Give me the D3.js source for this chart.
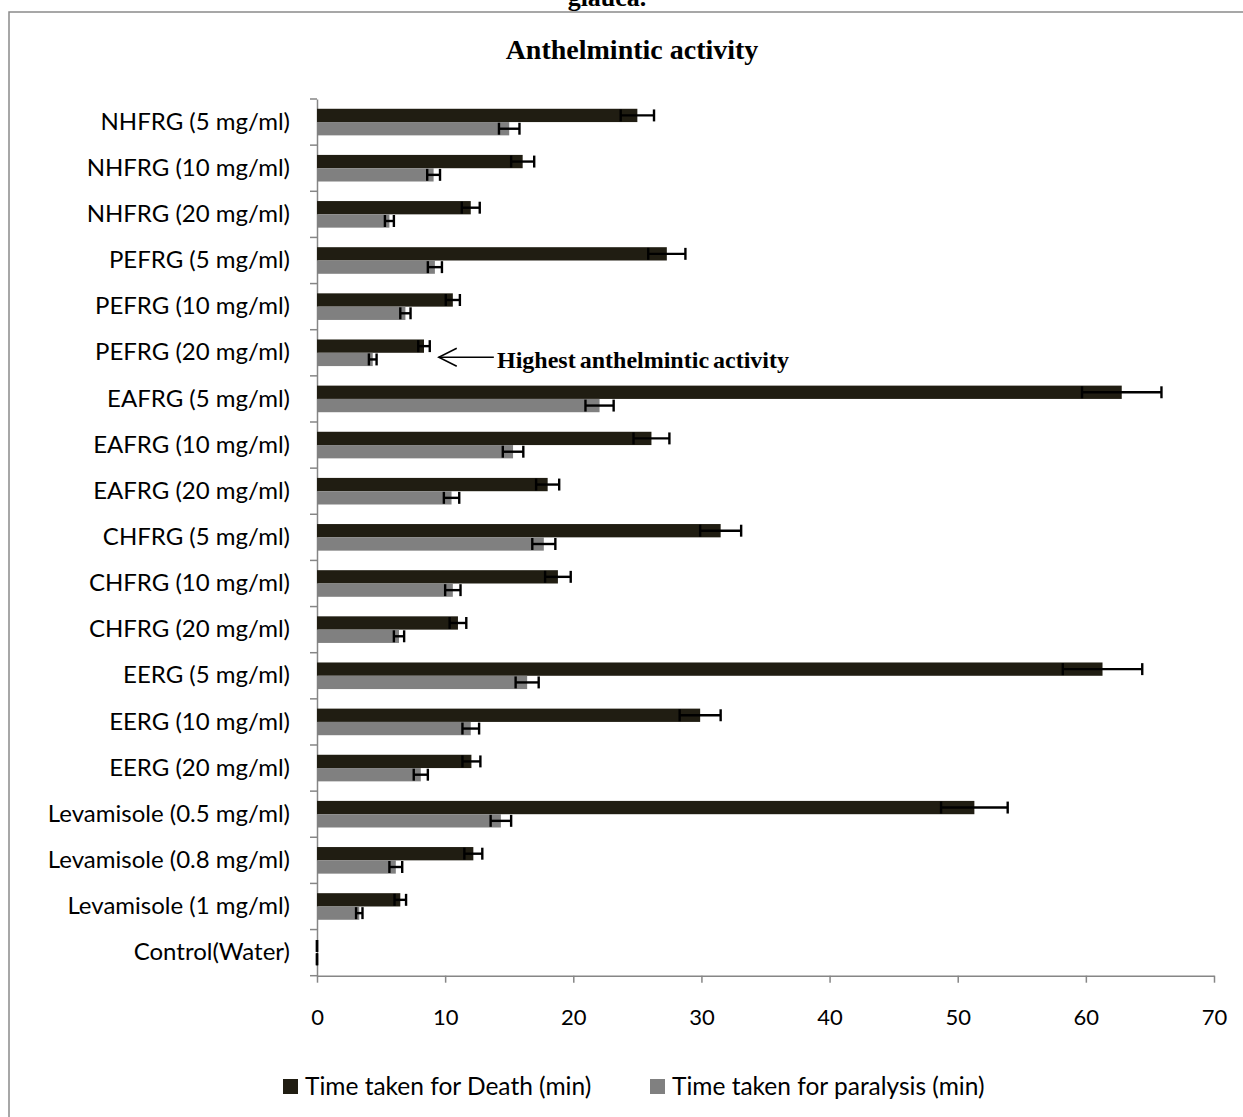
<!DOCTYPE html>
<html>
<head>
<meta charset="utf-8">
<script src="https://cdn.jsdelivr.net/npm/d3@7"></script>
<style>
  body { margin: 0; background: #fff; }
  svg { display: block; }
</style>
</head>
<body>
<div id="chart"></div>
<script>
// Categories top to bottom, as in the figure
const categories = [
    'NHFRG (5 mg/ml)', 'NHFRG (10 mg/ml)', 'NHFRG (20 mg/ml)',
    'PEFRG (5 mg/ml)', 'PEFRG (10 mg/ml)', 'PEFRG (20 mg/ml)',
    'EAFRG (5 mg/ml)', 'EAFRG (10 mg/ml)', 'EAFRG (20 mg/ml)',
    'CHFRG (5 mg/ml)', 'CHFRG (10 mg/ml)', 'CHFRG (20 mg/ml)',
    'EERG (5 mg/ml)', 'EERG (10 mg/ml)', 'EERG (20 mg/ml)',
    'Levamisole (0.5 mg/ml)', 'Levamisole (0.8 mg/ml)', 'Levamisole (1 mg/ml)',
    'Control(Water)'
];

const deathTime = [25.0, 16.05, 12.0, 27.3, 10.6, 8.35, 62.8, 26.1, 18.0, 31.5, 18.8, 11.0, 61.3, 29.9, 12.05, 51.3, 12.2, 6.5, 0];
const deathErr = [1.3, 0.9, 0.7, 1.45, 0.55, 0.45, 3.1, 1.4, 0.9, 1.6, 1.0, 0.65, 3.1, 1.6, 0.7, 2.6, 0.7, 0.45, 0];
const paralysisTime = [15.0, 9.1, 5.65, 9.2, 6.9, 4.35, 22.05, 15.3, 10.5, 17.7, 10.6, 6.4, 16.4, 12.0, 8.1, 14.35, 6.15, 3.3, 0];
const paralysisErr = [0.8, 0.5, 0.35, 0.55, 0.4, 0.3, 1.1, 0.8, 0.6, 0.9, 0.6, 0.4, 0.9, 0.65, 0.55, 0.8, 0.5, 0.25, 0];

const seriesNames = ['Time taken for Death (min)', 'Time taken for paralysis (min)'];
const xTicks = [0, 10, 20, 30, 40, 50, 60, 70];

const width = 1243;
const height = 1117;
const margin = { top: 99, right: 29, bottom: 141.3, left: 317 };
const labelFont = 'Lato, "Open Sans", sans-serif';
const serifFont = '"Liberation Serif", "Times New Roman", serif';
const colors = ['#201d12', '#808080'];

const svg = d3.select('#chart')
    .append('svg')
    .attr('width', width)
    .attr('height', height);

// Outer box of the figure (only top and left edges are on the page)
svg.append('rect')
    .attr('x', 9)
    .attr('y', 12)
    .attr('width', width + 20)
    .attr('height', height + 20)
    .attr('fill', 'none')
    .attr('stroke', '#8a8a8a')
    .attr('stroke-width', 1.5);

// Cut-off caption line from the page above
svg.append('text')
    .attr('x', 607)
    .attr('y', 6)
    .attr('text-anchor', 'middle')
    .style('font-family', serifFont)
    .style('font-weight', 'bold')
    .style('font-size', '26px')
    .text('glauca.');

svg.append('text')
    .attr('x', 632)
    .attr('y', 59)
    .attr('text-anchor', 'middle')
    .style('font-family', serifFont)
    .style('font-weight', 'bold')
    .style('font-size', '28px')
    .text('Anthelmintic activity');

const x = d3.scaleLinear()
    .domain([0, 70])
    .range([margin.left, width - margin.right]);

const y = d3.scaleBand()
    .domain(categories)
    .range([margin.top, height - margin.bottom]);

// Two bars per band, gap width about 150%
const barH = y.bandwidth() / 3.47;
const groupOffset = (y.bandwidth() - 2 * barH) / 2;

const rows = categories.map((c, i) => ({
    name: c,
    values: [
        { s: 0, v: deathTime[i], e: deathErr[i] },
        { s: 1, v: paralysisTime[i], e: paralysisErr[i] }
    ]
}));

// X axis
const xAxis = svg.append('g')
    .attr('transform', `translate(0,${height - margin.bottom})`)
    .call(d3.axisBottom(x).tickValues(xTicks).tickSize(7).tickPadding(27).tickSizeOuter(0));
xAxis.selectAll('line, path').attr('stroke', '#868686').attr('stroke-width', 1.5);
xAxis.selectAll('text')
    .style('font-family', labelFont)
    .style('font-size', '22px')
    .attr('fill', '#000');

// Y axis: labels centred on bands, tick marks on band edges
const yAxis = svg.append('g')
    .attr('transform', `translate(${margin.left},0)`)
    .call(d3.axisLeft(y).tickSize(0).tickPadding(27));
yAxis.select('path').attr('stroke', '#868686').attr('stroke-width', 1.5);
yAxis.selectAll('text')
    .style('font-family', labelFont)
    .style('font-size', '24px')
    .attr('fill', '#000');

const edges = categories.map(c => y(c)).concat([y.range()[1]]);
svg.append('g')
    .selectAll('line')
    .data(edges)
    .enter().append('line')
    .attr('x1', margin.left - 7)
    .attr('x2', margin.left)
    .attr('y1', d => d)
    .attr('y2', d => d)
    .attr('stroke', '#868686')
    .attr('stroke-width', 1.5);

// Bars
const group = svg.append('g')
    .selectAll('g')
    .data(rows)
    .enter().append('g')
    .attr('transform', d => `translate(0,${y(d.name) + groupOffset})`);

group.selectAll('rect')
    .data(d => d.values)
    .enter().append('rect')
    .attr('x', x(0))
    .attr('y', d => d.s * barH)
    .attr('width', d => x(d.v) - x(0))
    .attr('height', barH)
    .attr('fill', d => colors[d.s]);

// Error bars (both directions, with caps)
const capH = barH * 0.9;
const err = group.selectAll('g.err')
    .data(d => d.values)
    .enter().append('g')
    .attr('class', 'err')
    .attr('stroke', '#000')
    .attr('stroke-width', 2.4);

err.append('line')
    .attr('x1', d => x(d.v - d.e))
    .attr('x2', d => x(d.v + d.e))
    .attr('y1', d => d.s * barH + barH / 2)
    .attr('y2', d => d.s * barH + barH / 2);

err.selectAll('line.cap')
    .data(d => [d.v - d.e, d.v + d.e].map(v => ({ v, s: d.s })))
    .enter().append('line')
    .attr('class', 'cap')
    .attr('x1', d => x(d.v))
    .attr('x2', d => x(d.v))
    .attr('y1', d => d.s * barH + (barH - capH) / 2)
    .attr('y2', d => d.s * barH + (barH + capH) / 2);

// Annotation pointing at PEFRG (20 mg/ml)
const noteRow = 'PEFRG (20 mg/ml)';
const noteY = y(noteRow) + y.bandwidth() / 2 + 4.5;
const tipX = x(9.5);
const note = svg.append('g');
note.append('line')
    .attr('x1', tipX).attr('x2', x(13.8))
    .attr('y1', noteY).attr('y2', noteY)
    .attr('stroke', '#000').attr('stroke-width', 1.5);
note.append('path')
    .attr('d', `M${tipX + 18},${noteY - 9} L${tipX},${noteY} L${tipX + 18},${noteY + 9}`)
    .attr('fill', 'none')
    .attr('stroke', '#000')
    .attr('stroke-width', 1.5);
note.append('text')
    .attr('x', x(14.05))
    .attr('y', noteY + 11)
    .style('font-family', serifFont)
    .style('font-weight', 'bold')
    .style('font-size', '24px')
    .style('word-spacing', '-2px')
    .text('Highest anthelmintic activity');

// Legend
const legendX = [283, 650];
const legend = svg.append('g')
    .selectAll('g')
    .data(seriesNames)
    .enter().append('g')
    .attr('transform', (d, i) => `translate(${legendX[i]},1079)`);

legend.append('rect')
    .attr('width', 15)
    .attr('height', 15)
    .attr('fill', (d, i) => colors[i]);

legend.append('text')
    .attr('x', 22)
    .attr('y', 15.5)
    .style('font-family', labelFont)
    .style('font-size', '24.5px')
    .text(d => d);
</script>
</body>
</html>
